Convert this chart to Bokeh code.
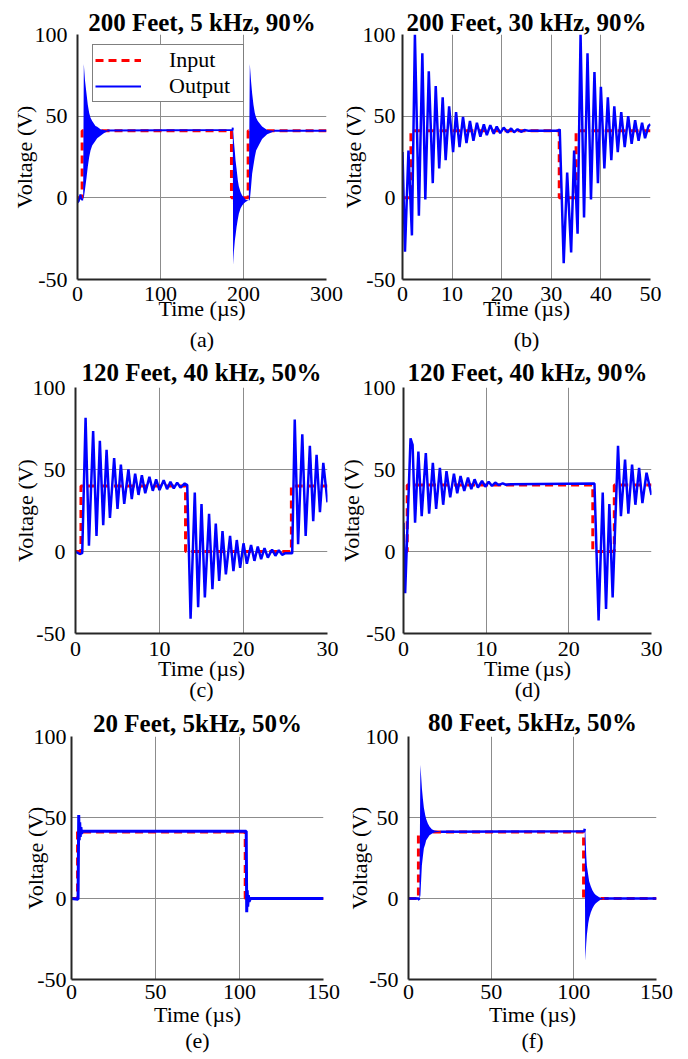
from bokeh.plotting import figure
from bokeh.models import Range1d, FixedTicker, Legend, LegendItem, LinearAxis
from bokeh.layouts import column, row
from bokeh.embed import file_html
from bokeh.resources import INLINE

nan = float("nan")
FONT = "Liberation Serif"
BLUE = "#0000ff"
RED = "#ff0000"

titles = ["200 Feet, 5 kHz, 90%", "200 Feet, 30 kHz, 90%",
          "120 Feet, 40 kHz, 50%", "120 Feet, 40 kHz, 90%",
          "20 Feet, 5kHz, 50%", "80 Feet, 5kHz, 50%"]
captions = ["(a)", "(b)", "(c)", "(d)", "(e)", "(f)"]
y_ticks = [-50, 0, 50, 100]
x_ticks_a = [0, 100, 200, 300]
x_ticks_b = [0, 10, 20, 30, 40, 50]
x_ticks_cd = [0, 10, 20, 30]
x_ticks_ef = [0, 50, 100, 150]

# ---------------- (a) 200 ft, 5 kHz, 90 % ----------------
a_in_t = [0, 5.6, 5.6, 185.5, 185.5, 205.6, 205.6, 300]
a_in_v = [0, 0, 41, 41, 0, 0, 41, 41]
a_out_t = [0, 1.5, 3.5, 5.0, 6.8, nan, 35.7, 186.8, 187.1, nan, 236.5, 300]
a_out_v = [-3, -2, 2, -1, -1, nan, 41.2, 41.5, 43, nan, 41, 41]
a_ring1_t = [6.8, 7.6, 9.0, 10.8, 12.4, 14.1, 15.7, 17.7, 21.7, 23.7, 27.7, 31.7, 35.7]
a_ring1_hi = [-1, 82, 72, 64, 57, 52, 49, 47, 44, 43.5, 42, 41.6, 41.2]
a_ring1_lo = [-1, 0, 5, 12, 19, 25, 29, 32, 35, 36.5, 38, 39.5, 40.6]
a_ring2_t = [187.1, 187.5, 188.4, 189.6, 190.4, 191.6, 193.2, 194.4, 196.4, 198.4, 200.4, 202.4, 204.4, 206.4]
a_ring2_hi = [43, 42, 35, 28, 23, 18, 10.6, 7, 3.5, 1.5, 0.4, -1, -1.5, -1.5]
a_ring2_lo = [43, -41, -33, -26, -23, -18, -13, -9.8, -6.5, -4.7, -3.5, -2.6, -2, -1.5]
a_ring3_t = [206.4, 207.6, 209.0, 210.4, 212.0, 213.6, 215.2, 217.2, 222.4, 228.5, 236.5]
a_ring3_hi = [-1.5, 82, 72, 64, 57, 52, 49, 47, 43.7, 41.6, 41]
a_ring3_lo = [-1.5, -1.5, 6, 14.7, 20, 25, 29, 31, 36, 39, 40.6]

# ---------------- (b) 200 ft, 30 kHz, 90 % ----------------
b_in_t = [0, 1.7, 1.7, 31.6, 31.6, 35.0, 35.0, 50]
b_in_v = [0, 0, 41, 41, 0, 0, 41, 41]
b_out_t = [0, 0.5, 1.2, 1.9, 2.5, 3.3, 4.0, 4.6, 5.3, 6.1,
           6.7, 7.4, 8.1, 8.7, 9.4, 10.2, 10.8, 11.5, 12.2, 12.9,
           13.6, 14.3, 15.0, 15.7, 16.4, 17.0, 17.7, 18.4, 19.0, 19.7,
           20.4, 21.2, 21.9, 22.5, 23.2, 23.9, 24.6, 25.5, 31.4, 31.7,
           32.5, 33.2, 34.0, 34.6, 35.3, 35.9, 36.6, 37.3, 38.0, 38.7,
           39.4, 40.0, 40.7, 41.4, 42.1, 42.7, 43.4, 44.1, 44.8, 45.5,
           46.2, 46.9, 47.6, 48.3, 48.9, 49.6, 50]
b_out_v = [28, -33, 29, -23, 100, -11, 88.5, -1, 77.5, 9,
           68.5, 18, 61.5, 23, 56, 28, 52.5, 31, 49.5, 33.5,
           47, 35, 46, 37.5, 45, 38.4, 44.5, 39.2, 43.7, 39.6,
           43, 40, 42.5, 40.2, 42, 40.4, 41.5, 41, 41, 42,
           -40, 15.5, -33.5, 29, -22, 100, -12, 88.5, -1, 77,
           9, 68, 18, 61.5, 23, 56, 28, 52.5, 31, 50,
           33, 47.5, 35, 46, 36.5, 44, 45]

# ---------------- (c) 120 ft, 40 kHz, 50 % ----------------
c_in_t = [0, 0.65, 0.65, 13.1, 13.1, 25.7, 25.7, 30]
c_in_v = [0, 0, 40, 40, 0, 0, 40, 40]
c_out_t = [0, 0.5, 0.8, 1.2, 1.6, 2.1, 2.5, 2.9, 3.3, 3.7,
           4.1, 4.6, 5.0, 5.4, 5.8, 6.3, 6.7, 7.1, 7.5, 7.9,
           8.3, 8.8, 9.2, 9.6, 10.0, 10.5, 10.9, 11.3, 11.7, 12.1,
           12.5, 13.0, 13.3, 13.7, 14.2, 14.6, 15.0, 15.4, 15.9, 16.3,
           16.7, 17.1, 17.5, 17.9, 18.4, 18.8, 19.2, 19.6, 20.0, 20.4,
           20.9, 21.3, 21.7, 22.1, 22.5, 22.9, 23.4, 23.8, 24.2, 24.6,
           25.0, 25.8, 26.1, 26.5, 27.0, 27.4, 27.9, 28.3, 28.7, 29.1,
           29.5, 30.0]
c_out_v = [0, -1.5, -1, 81.5, 3.5, 73.5, 9.5, 67.5, 16, 62,
           20.5, 57, 26, 53, 29, 50, 32, 47.5, 34.5, 46.5,
           35.5, 45.5, 37, 44, 37.5, 43.5, 38, 42.5, 38.5, 42,
           39, 41.5, 40.5, -41, 36, -34, 29, -28, 23, -23,
           17, -18, 12.5, -14, 9.5, -12, 7, -10, 5, -7.5,
           4, -5.7, 3, -4.7, 2, -3.7, 1.2, -2.6, 0.8, -2,
           -1, -1, 80.5, 4.5, 71.5, 9.5, 64.5, 18.5, 59, 24,
           54, 30]

# ---------------- (d) 120 ft, 40 kHz, 90 % ----------------
d_in_t = [0, 0.45, 0.45, 22.9, 22.9, 25.5, 25.5, 30]
d_in_v = [0, 0, 40.5, 40.5, 0, 0, 40.5, 40.5]
d_out_t = [0, 0.2, 0.85, 1.1, 1.4, 1.8, 2.2, 2.7, 3.1, 3.55,
           3.95, 4.4, 4.8, 5.2, 5.65, 6.1, 6.5, 6.9, 7.35, 7.8,
           8.2, 8.6, 9.0, 9.5, 9.9, 10.3, 10.7, 11.1, 11.5, 12.0,
           12.4, 13.0, 23.1, 23.6, 24.1, 24.5, 24.9, 25.3, 25.95, 26.3,
           26.8, 27.2, 27.65, 28.05, 28.5, 28.9, 29.4, 30.0]
d_out_v = [17.5, -25.5, 69, 65, 17.5, 61, 21.5, 60, 23, 54,
           26, 51, 28.5, 49, 33, 47.5, 35.5, 46, 37, 45,
           38, 44, 39, 43, 39.5, 42.5, 40, 42, 40.5, 41.5,
           40.7, 41, 41.5, -42, 36, -35, 29, -28, 64.5, 21.5,
           56, 23, 53, 28.5, 51, 29.5, 48, 34.5]

# ---------------- (e) 20 ft, 5 kHz, 50 % ----------------
e_in_t = [0, 3.6, 3.6, 103.4, 103.4, 150]
e_in_v = [0, 0, 41, 41, 0, 0]
e_out_t = [0, 3.9, 4.3, 4.6, 4.9, 5.2, 5.6, 6.0, 6.5, 104.0, 104.3, 104.6, 104.9, 105.3, 105.7, 106.5, 150]
e_out_v = [0, -0.5, 51.5, 36, 47, 38, 44, 40, 41.5, 41.5, -8.5, 5, -5, 2, -2, 0, 0]

# ---------------- (f) 80 ft, 5 kHz, 50 % ----------------
f_in_t = [0, 6.0, 6.0, 105.9, 105.9, 150]
f_in_v = [0, 0, 41, 41, 0, 0]
f_out_t = [0, 6.0, 6.6, nan, 19.5, 106.3, 106.6, nan, 118.4, 150]
f_out_v = [0, 0, -1, nan, 41.2, 41.5, 43, nan, 0, 0]
f_ring1_t = [6.6, 7.2, 8.1, 8.7, 9.3, 10.1, 10.7, 11.7, 12.7, 14.1, 15.7, 17.7, 19.5]
f_ring1_hi = [-1, 82.5, 68, 61.5, 56, 51.5, 49, 46.3, 44.5, 42.8, 42, 41.6, 41.3]
f_ring1_lo = [-1, 2, 20.5, 26, 31, 33.5, 36, 37.5, 39, 40, 40.8, 41, 41.2]
f_ring2_t = [106.6, 106.9, 107.5, 107.9, 108.7, 109.3, 110.3, 111.3, 112.3, 113.3, 115.4, 116.4, 118.4]
f_ring2_hi = [43, 42.8, 26.8, 20, 14.5, 10.5, 7.4, 5, 3.3, 2.2, 0.8, 0.5, 0]
f_ring2_lo = [43, -38.5, -28, -22.3, -15.5, -12, -8.5, -6, -4.2, -2.9, -1.2, -0.8, 0]


def panel(title, caption, xmax, xticks, w, h, bl, br, bt, bb, margin, title_std,
          y_std, y_lab_std, x_std, x_lab_std, cap_std):
    p = figure(width=w, height=h, x_range=Range1d(0, xmax), y_range=Range1d(-50, 100),
               output_backend="svg", toolbar_location=None, title=title,
               min_border_left=bl, min_border_right=br, min_border_top=bt, min_border_bottom=bb,
               margin=margin)
    p.title.text_font = FONT
    p.title.text_font_size = "25px"
    p.title.text_font_style = "bold"
    p.title.text_color = "black"
    p.title.align = "center"
    p.title.standoff = title_std
    p.outline_line_color = None
    p.background_fill_color = "white"
    p.border_fill_color = None
    p.xaxis.ticker = FixedTicker(ticks=xticks)
    p.yaxis.ticker = FixedTicker(ticks=y_ticks)
    p.yaxis.major_label_overrides = {-50: "-50"}
    p.xaxis.axis_label = "Time (µs)"
    p.yaxis.axis_label = "Voltage (V)"
    for ax in (p.xaxis[0], p.yaxis[0]):
        ax.axis_line_color = "#262626"
        ax.axis_line_width = 2
        ax.major_tick_in = 0
        ax.major_tick_out = 0
        ax.minor_tick_line_color = None
        ax.major_label_text_font = FONT
        ax.major_label_text_font_size = "22px"
        ax.major_label_text_color = "black"
        ax.axis_label_text_font = FONT
        ax.axis_label_text_font_size = "22px"
        ax.axis_label_text_font_style = "normal"
        ax.axis_label_text_color = "black"
    p.yaxis.axis_label_text_line_height = 1.0
    p.xaxis.major_label_standoff = x_std
    p.xaxis.axis_label_standoff = x_lab_std
    p.yaxis.major_label_standoff = y_std
    p.yaxis.axis_label_standoff = y_lab_std
    p.grid.grid_line_color = "#8c8c8c"
    p.grid.grid_line_width = 1
    cap = LinearAxis(axis_label=caption, ticker=FixedTicker(ticks=[]),
                     axis_line_color=None, major_tick_line_color=None,
                     minor_tick_line_color=None, major_tick_in=0, major_tick_out=0,
                     major_label_standoff=0, axis_label_standoff=cap_std,
                     axis_label_text_font=FONT, axis_label_text_font_size="22px",
                     axis_label_text_font_style="normal", axis_label_text_color="black",
                     axis_label_text_line_height=0.8)
    p.add_layout(cap, "below")
    return p


def draw(p, in_t, in_v, out_t, out_v, lw=2.5):
    r_in = p.line(in_t, in_v, line_color=RED, line_width=3, line_dash="8 5")
    r_out = p.line(out_t, out_v, line_color=BLUE, line_width=lw)
    return r_in, r_out


# row 1: canvases start 30 px above the page and overlap the next row (transparent borders)
pa = panel(titles[0], captions[0], 300, x_ticks_a, 344, 410, 77, 18, 64, 101, (-30, 0, 0, 0), -2,
           10, -5, 7, -8, 3)
r_in, r_out = draw(pa, a_in_t, a_in_v, a_out_t, a_out_v, lw=2)
for t, hi, lo in ((a_ring1_t, a_ring1_hi, a_ring1_lo), (a_ring2_t, a_ring2_hi, a_ring2_lo),
                  (a_ring3_t, a_ring3_hi, a_ring3_lo)):
    pa.varea(x=t, y1=lo, y2=hi, fill_color=BLUE)
legend = Legend(items=[LegendItem(label="Input", renderers=[r_in]),
                       LegendItem(label="Output", renderers=[r_out])],
                location=(15, 177))
legend.label_text_font = FONT
legend.label_text_font_size = "22px"
legend.label_text_color = "black"
legend.label_height = 20
legend.glyph_height = 20
legend.border_line_color = "black"
legend.border_line_width = 1.5
legend.padding = 2
legend.spacing = 0
legend.margin = 0
legend.glyph_width = 46
legend.label_standoff = 28
legend.label_width = 72
legend.background_fill_alpha = 1
pa.add_layout(legend)

pb = panel(titles[1], captions[1], 50, x_ticks_b, 364, 410, 78, 38, 64, 101, (-30, 0, 0, -20), -2,
           7, -6, 7, -8, 3)
draw(pb, b_in_t, b_in_v, b_out_t, b_out_v)

# row 2
pc = panel(titles[2], captions[2], 30, x_ticks_cd, 344, 406, 75, 17, 60, 100, (-53, 0, 0, 0), 4,
           10, -8, 8, -3, -7)
draw(pc, c_in_t, c_in_v, c_out_t, c_out_v)

pd = panel(titles[3], captions[3], 30, x_ticks_cd, 364, 406, 79, 37, 60, 100, (-53, 0, 0, -20), 4,
           8, -4, 8, -3, -7)
draw(pd, d_in_t, d_in_v, d_out_t, d_out_v)

# row 3
pe = panel(titles[4], captions[4], 150, x_ticks_ef, 344, 385, 71, 21, 58, 80, (-59, 0, 0, 0), -1,
           5, -17, 5, 0, -2)
draw(pe, e_in_t, e_in_v, e_out_t, e_out_v, lw=3)

pf = panel(titles[5], captions[5], 150, x_ticks_ef, 364, 385, 84, 32, 62, 80, (-59, 0, 0, -20), 1,
           10, -9, 5, 0, -2)
draw(pf, f_in_t, f_in_v, f_out_t, f_out_v, lw=2.5)
for t, hi, lo in ((f_ring1_t, f_ring1_hi, f_ring1_lo), (f_ring2_t, f_ring2_hi, f_ring2_lo)):
    pf.varea(x=t, y1=lo, y2=hi, fill_color=BLUE)

layout = column(row(pa, pb), row(pc, pd), row(pe, pf))
open("out.html", "w").write(file_html(layout, INLINE))
